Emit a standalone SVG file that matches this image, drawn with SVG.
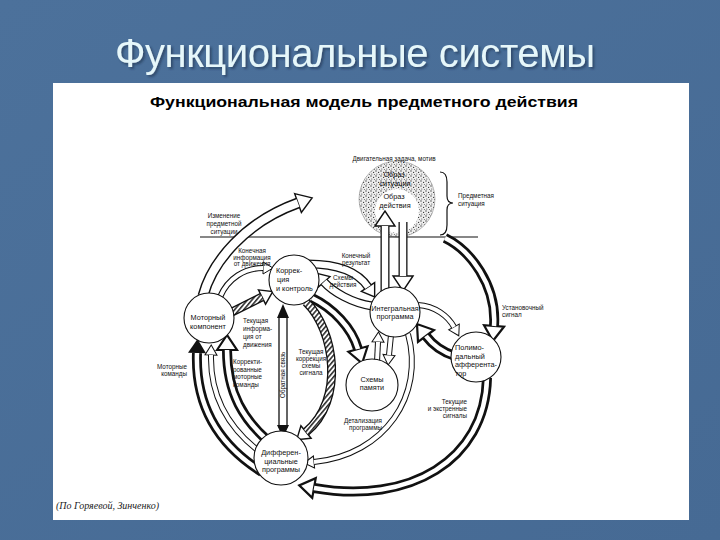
<svg xmlns="http://www.w3.org/2000/svg" width="720" height="540" viewBox="0 0 720 540">
<style>
.ttl{font-family:"Liberation Sans","DejaVu Sans",sans-serif;font-size:40px}
.sub{font-family:"Liberation Sans",Arial,sans-serif;font-size:15px;font-weight:bold}
.lb{font-family:"Liberation Sans",Arial,sans-serif;font-size:6.3px;fill:#111}
.nd{font-family:"Liberation Sans",Arial,sans-serif;font-size:7.3px;fill:#111}
.cit{font-family:"Liberation Serif","Times New Roman",serif;font-size:10px;font-style:italic;fill:#222}
.node{fill:#fff;stroke:#111;stroke-width:1.1}
.ringO{fill:none;stroke:#111;stroke-width:10}
.ringI{fill:none;stroke:#fff;stroke-width:4.5}
.bandO{fill:none;stroke:#111;stroke-width:9}
.bandI{fill:none;stroke:#fff;stroke-width:6.4}
.wideO{fill:none;stroke:#111;stroke-width:11}
.wideI{fill:none;stroke:#fff;stroke-width:8.2}
.thinO{fill:none;stroke:#111;stroke-width:6}
.thinI{fill:none;stroke:#fff;stroke-width:4}
.hatI{fill:none;stroke:url(#hatch);stroke-width:6.4}
</style>
<defs>
<linearGradient id="bg" x1="0" y1="0" x2="1" y2="1">
<stop offset="0" stop-color="#4c719b"/>
<stop offset="1" stop-color="#466a94"/>
</linearGradient>
<filter id="shadow" x="-5%" y="-20%" width="110%" height="140%">
<feDropShadow dx="2" dy="2" stdDeviation="0.8" flood-color="#1c3350" flood-opacity="0.6"/>
</filter>
<pattern id="hatch" patternUnits="userSpaceOnUse" width="3.5" height="3.5" patternTransform="rotate(40)">
<rect width="3.5" height="3.5" fill="#fff"/>
<line x1="0.8" y1="0" x2="0.8" y2="3.5" stroke="#111" stroke-width="1.4"/>
</pattern>
<pattern id="stip" patternUnits="userSpaceOnUse" width="5" height="5">
<rect width="5" height="5" fill="#eeeeee"/>
<circle cx="1" cy="1" r="0.65" fill="#333"/>
<circle cx="3.6" cy="2.4" r="0.6" fill="#333"/>
<circle cx="1.8" cy="4" r="0.55" fill="#444"/>
<circle cx="4.4" cy="4.6" r="0.5" fill="#555"/>
</pattern>
<marker id="hb" markerUnits="userSpaceOnUse" orient="auto" overflow="visible" refX="0" refY="0" markerWidth="1" markerHeight="1">
<path d="M0,-10 L15,0 L0,10 z" fill="#fff" stroke="#111" stroke-width="2.2" stroke-linejoin="miter"/>
</marker>
<marker id="hw" markerUnits="userSpaceOnUse" orient="auto" overflow="visible" refX="0" refY="0" markerWidth="1" markerHeight="1">
<path d="M0,-10 L15,0 L0,10 z" fill="#fff" stroke="#111" stroke-width="1.4"/>
</marker>
<marker id="ho" markerUnits="userSpaceOnUse" orient="auto" overflow="visible" refX="0" refY="0" markerWidth="1" markerHeight="1">
<path d="M0,-8 L12,0 L0,8 z" fill="#fff" stroke="#111" stroke-width="1.4"/>
</marker>
<marker id="hs" markerUnits="userSpaceOnUse" orient="auto" overflow="visible" refX="0" refY="0" markerWidth="1" markerHeight="1">
<path d="M0,-6 L10,0 L0,6 z" fill="#fff" stroke="#111" stroke-width="1"/>
</marker>
<marker id="hk" markerUnits="userSpaceOnUse" orient="auto" overflow="visible" refX="0" refY="0" markerWidth="1" markerHeight="1">
<path d="M0,-9 L14,0 L0,9 z" fill="#111"/>
</marker>
</defs>

<rect width="720" height="540" fill="url(#bg)"/>
<text class="ttl" x="355" y="67" text-anchor="middle" fill="#e6f7fa" textLength="480" filter="url(#shadow)">Функциональные системы</text>
<rect x="53" y="83" width="636" height="437" fill="#fff"/>
<text class="sub" x="364" y="107" text-anchor="middle" textLength="428" lengthAdjust="spacingAndGlyphs">Функциональная модель предметного действия</text>

<g id="situation">
<circle cx="397" cy="199" r="38" fill="url(#stip)" stroke="#777" stroke-width="0.5"/>
<circle cx="397" cy="211" r="22" fill="#fff"/>
<text class="nd" x="394" y="177" text-anchor="middle">Образ</text>
<text class="nd" x="395" y="186" text-anchor="middle">ситуации</text>
<text class="nd" x="394" y="199" text-anchor="middle">Образ</text>
<text class="nd" x="395" y="208" text-anchor="middle">действия</text>
<path d="M440,172 Q447,172 447,182 L447,196 Q447,203 453,203 Q447,203 447,210 L447,225 Q447,235 440,235" fill="none" stroke="#111" stroke-width="1.2"/>
<line x1="200" y1="237" x2="478" y2="237" stroke="#111" stroke-width="1.2"/>
</g>

<g id="connectors">
<path class="ringO" d="M445,238 C470,250 497,285 494,326" marker-end="url(#hb)"/>
<path class="ringI" d="M445,238 C470,250 497,285 494,326"/>
<path class="ringO" d="M487,378 C485,460 410,505 314,488" marker-end="url(#hb)"/>
<path class="ringI" d="M487,378 C485,460 410,505 314,488"/>
<path class="ringO" d="M262,472 C222,447 195,410 197,353" marker-end="url(#hk)"/>
<path class="ringI" d="M262,472 C222,447 195,410 197,353"/>
<path class="thinO" d="M264,455 C232,432 210,400 211,355" marker-end="url(#hs)"/>
<path class="thinI" d="M264,455 C232,432 210,400 211,355"/>
<path class="ringO" d="M267,440 C245,420 227,395 227,350" marker-end="url(#hb)"/>
<path class="ringI" d="M267,440 C245,420 227,395 227,350"/>
<path class="wideO" d="M203,296 C212,262 245,222 298,203" marker-end="url(#hw)"/>
<path class="wideI" d="M203,296 C212,262 245,222 298,203"/>
<path class="thinO" d="M220,297 C228,278 245,268 263,268" marker-end="url(#hs)"/>
<path class="thinI" d="M220,297 C228,278 245,268 263,268"/>
<path class="bandO" d="M230,313 L262,297" marker-end="url(#ho)"/>
<path class="hatI" d="M230,313 L262,297"/>
<path class="bandO" d="M308,264 C338,264 358,272 368,287" marker-end="url(#ho)"/>
<path class="bandI" d="M308,264 C338,264 358,272 368,287"/>
<path class="bandO" d="M372,306 C352,303 333,292 324,282" marker-end="url(#ho)"/>
<path class="bandI" d="M372,306 C352,303 333,292 324,282"/>
<path class="bandO" d="M385,293 L385,226" marker-end="url(#hw)"/>
<path class="bandI" d="M385,293 L385,226"/>
<path class="bandO" d="M403,222 L403,276" marker-end="url(#hw)"/>
<path class="bandI" d="M403,222 L403,276"/>
<path class="thinO" d="M418,305 C435,306 448,316 454,327" marker-end="url(#hs)"/>
<path class="thinI" d="M418,305 C435,306 448,316 454,327"/>
<path class="ringO" d="M455,356 C442,352 432,344 426,336" marker-end="url(#hb)"/>
<path class="ringI" d="M455,356 C442,352 432,344 426,336"/>
<path class="ringO" d="M312,298 C333,308 352,328 358,349" marker-end="url(#hb)"/>
<path class="ringI" d="M312,298 C333,308 352,328 358,349"/>
<path class="thinO" d="M377,362 L378,342" marker-end="url(#hs)"/>
<path class="thinI" d="M377,362 L378,342"/>
<path class="thinO" d="M391,335 L389,355" marker-end="url(#hs)"/>
<path class="thinI" d="M391,335 L389,355"/>
<path class="bandO" d="M306,302 C335,330 345,400 306,432" marker-end="url(#ho)"/>
<path class="hatI" d="M306,302 C335,330 345,400 306,432"/>
<path class="thinO" d="M408,334 C425,395 385,455 314,462" marker-end="url(#hs)"/>
<path class="thinI" d="M408,334 C425,395 385,455 314,462"/>
<rect x="279" y="316" width="8" height="111" fill="#fff" stroke="#111" stroke-width="1.3"/>
<path d="M283,304 L289,318 L277,318 z" fill="#111"/>
<path d="M283,438 L289,425 L277,425 z" fill="#111"/>
<text class="lb" transform="translate(285.3,398) rotate(-90)" font-size="5.5">Обратная связь</text>
</g>

<g id="labels">
<text class="lb" x="394" y="161" text-anchor="middle">Двигательная задача, мотив</text>
<text class="lb" x="458" y="198">Предметная</text>
<text class="lb" x="458" y="206">ситуация</text>
<text class="lb" x="224" y="218" text-anchor="middle">Изменение</text>
<text class="lb" x="224" y="226" text-anchor="middle">предметной</text>
<text class="lb" x="224" y="234" text-anchor="middle">ситуации</text>
<text class="lb" x="252" y="253" text-anchor="middle">Конечная</text>
<text class="lb" x="252" y="259.5" text-anchor="middle">информация</text>
<text class="lb" x="252" y="266" text-anchor="middle">от движения</text>
<text class="lb" x="356" y="258" text-anchor="middle">Конечный</text>
<text class="lb" x="356" y="265" text-anchor="middle">результат</text>
<text class="lb" x="343" y="280" text-anchor="middle">Схемы</text>
<text class="lb" x="343" y="287" text-anchor="middle">действия</text>
<text class="lb" x="243" y="323">Текущая</text>
<text class="lb" x="243" y="331">информа-</text>
<text class="lb" x="243" y="339">ция от</text>
<text class="lb" x="243" y="347">движения</text>
<text class="lb" x="187" y="369" text-anchor="end">Моторные</text>
<text class="lb" x="187" y="376" text-anchor="end">команды</text>
<text class="lb" x="233" y="364">Корректи-</text>
<text class="lb" x="233" y="371.5">рованные</text>
<text class="lb" x="233" y="379">моторные</text>
<text class="lb" x="233" y="386.5">команды</text>
<text class="lb" x="311" y="354" text-anchor="middle">Текущая</text>
<text class="lb" x="311" y="361" text-anchor="middle">коррекция</text>
<text class="lb" x="311" y="368" text-anchor="middle">схемы</text>
<text class="lb" x="311" y="375" text-anchor="middle">сигнала</text>
<text class="lb" x="502" y="310">Установочный</text>
<text class="lb" x="502" y="317">сигнал</text>
<text class="lb" x="467" y="404" text-anchor="end">Текущие</text>
<text class="lb" x="467" y="411" text-anchor="end">и экстренные</text>
<text class="lb" x="467" y="418" text-anchor="end">сигналы</text>
<text class="lb" x="382" y="423" text-anchor="end">Детализация</text>
<text class="lb" x="382" y="430" text-anchor="end">программы</text>
<text class="cit" x="56" y="509">(По Горяевой, Зинченко)</text>
</g>

<g id="correction">
<circle class="node" cx="294" cy="280" r="25"/>
<text class="nd" x="276" y="273">Коррек-</text>
<text class="nd" x="277" y="282">ция</text>
<text class="nd" x="276" y="291">и контроль</text>
</g>
<g id="motor">
<circle class="node" cx="209" cy="318" r="25"/>
<text class="nd" x="208" y="320" text-anchor="middle">Моторный</text>
<text class="nd" x="208" y="329" text-anchor="middle">компонент</text>
</g>
<g id="integral">
<circle class="node" cx="395" cy="312" r="25"/>
<text class="nd" x="395" y="311" text-anchor="middle">Интегральная</text>
<text class="nd" x="395" y="319" text-anchor="middle">программа</text>
</g>
<g id="afferentator">
<circle class="node" cx="476" cy="357" r="25"/>
<text class="nd" x="455" y="350">Полимо-</text>
<text class="nd" x="455" y="358.5">дальный</text>
<text class="nd" x="455" y="367">афферента-</text>
<text class="nd" x="455" y="375.5">тор</text>
</g>
<g id="memory">
<circle class="node" cx="372" cy="385" r="26"/>
<text class="nd" x="372" y="382" text-anchor="middle">Схемы</text>
<text class="nd" x="372" y="390" text-anchor="middle">памяти</text>
</g>
<g id="differential">
<circle class="node" cx="281" cy="458" r="27"/>
<text class="nd" x="281" y="455" text-anchor="middle">Дифферен-</text>
<text class="nd" x="281" y="463.5" text-anchor="middle">циальные</text>
<text class="nd" x="281" y="472" text-anchor="middle">программы</text>
</g>
</svg>
